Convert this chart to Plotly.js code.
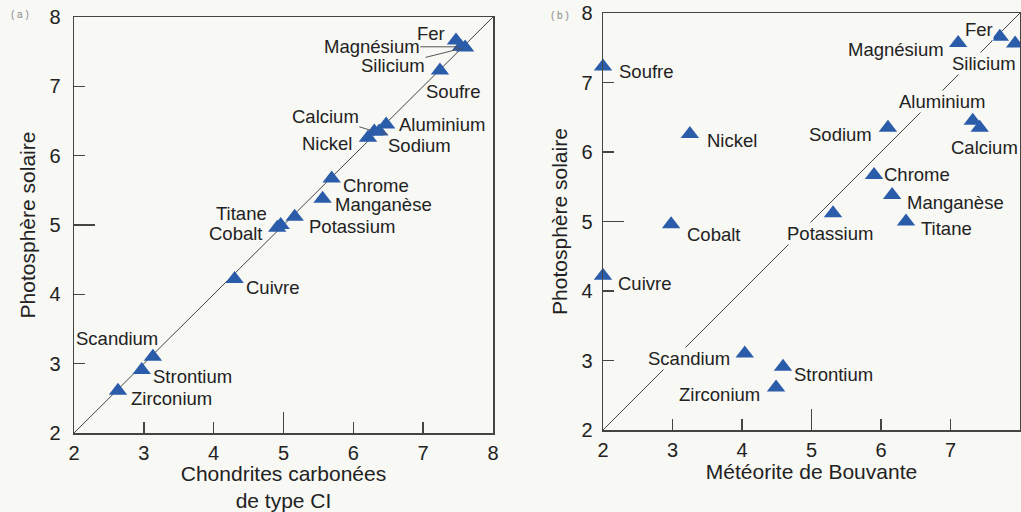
<!DOCTYPE html>
<html><head><meta charset="utf-8">
<script src="https://cdn.plot.ly/plotly-3.0.1.min.js"></script>
<style>html,body{margin:0;padding:0;background:#f8f8f4;}</style>
</head><body><div id="chart" style="width:1021px;height:512px;"></div>
<script>
// ---- data ----
const elements = ['Fer','Magnésium','Silicium','Soufre','Aluminium','Calcium','Nickel','Sodium','Chrome','Manganèse','Titane','Cobalt','Potassium','Cuivre','Scandium','Strontium','Zirconium'];
const photosphere = [7.66,7.57,7.56,7.23,6.45,6.35,6.26,6.35,5.67,5.38,5.00,4.96,5.12,4.22,3.10,2.91,2.61];
const chondritesCI = [7.47,7.54,7.60,7.24,6.47,6.30,6.21,6.37,5.69,5.56,4.96,4.91,5.16,4.30,3.13,2.97,2.63];
const bouvante = [7.71,7.11,7.93,2.00,7.32,7.42,3.25,6.10,5.90,6.16,6.36,2.98,5.31,2.00,4.04,4.59,4.49];
const diagonal = [2, 8];
const axisRange = [2, 8];
const longTick = [5];
const titleA = 'Chondrites carbonées<br>de type CI';
const titleB = 'Météorite de Bouvante';
const titleY = 'Photosphère solaire';

// ---- label placement (pixel offsets: dx, dy(down), leader line, mask) ----
const offsA = {
  'Fer':[-25,-7,0],'Magnésium':[-89,0,1],'Silicium':[-72,18,1],'Soufre':[14,21,0],
  'Aluminium':[56,0,0],'Calcium':[-49,-15,1],'Nickel':[-41,6,0],'Sodium':[40,14,1],
  'Chrome':[44,7,0],'Manganèse':[61,6,0],'Titane':[-39,-12,0],'Cobalt':[-42,6,0],
  'Potassium':[57,10,0],'Cuivre':[38,8,0],'Scandium':[-36,-18,0],'Strontium':[51,7,0],'Zirconium':[54,8,0]
};
const offsB = {
  'Fer':[-21,-7,0,1],'Magnésium':[-62,7,0],'Silicium':[-31,20,0,1],'Soufre':[43,5,0],
  'Aluminium':[-31,-19,0,1],'Calcium':[5,20,0],'Nickel':[42,7,0],'Sodium':[-47,7,0],
  'Chrome':[43,0,0],'Manganèse':[63,7,0],'Titane':[40,7,0],'Cobalt':[42,10,0],
  'Potassium':[-3,20,0,1],'Cuivre':[41,8,0],'Scandium':[-56,5,0,1],'Strontium':[50,8,0],'Zirconium':[-57,7,0]
};

const BG = '#f8f8f4';
const INK = '#222222';
const AX = '#444444';
const FONT = 'Liberation Sans, Arial, Helvetica, sans-serif';
const markerStyle = {symbol:'triangle-up', size:16, color:'#2a5caa', line:{width:0}};
const labelFont = {family:FONT, size:18.5, color:INK};

const traces = [
  {x:diagonal, y:diagonal, xaxis:'x', yaxis:'y', mode:'lines', line:{color:AX, width:1}, hoverinfo:'skip', showlegend:false},
  {x:chondritesCI, y:photosphere, text:elements, xaxis:'x', yaxis:'y', mode:'markers', marker:markerStyle, cliponaxis:false, showlegend:false},
  {x:diagonal, y:diagonal, xaxis:'x2', yaxis:'y2', mode:'lines', line:{color:AX, width:1}, hoverinfo:'skip', showlegend:false},
  {x:bouvante, y:photosphere, text:elements, xaxis:'x2', yaxis:'y2', mode:'markers', marker:markerStyle, cliponaxis:false, showlegend:false},
  {x:[], y:[], xaxis:'x3', yaxis:'y3', showlegend:false},
  {x:[], y:[], xaxis:'x4', yaxis:'y4', showlegend:false}
];

function baseAxis(domain, anchor, isX) {
  return {
    domain:domain, anchor:anchor, range:axisRange, dtick:1, tick0:2,
    ticks:'inside', ticklen:11, tickwidth:1.5, tickcolor:AX,
    showline:true, linecolor:AX, linewidth:1.5, mirror:true,
    showgrid:false, zeroline:false,
    tickfont:{family:FONT, size:20, color:INK},
    ticklabelstandoff: isX ? 1 : 8,
    fixedrange:true
  };
}
function longAxis(over, anchor) {
  return {overlaying:over, anchor:anchor, range:axisRange, tickvals:longTick,
    ticks:'inside', ticklen:21, tickwidth:1.5, tickcolor:AX,
    showticklabels:false, showline:false, showgrid:false, zeroline:false};
}

const dxA = [74/1021, 493/1021], dyA = [1-433/512, 1-17/512];
const dxB = [603/1021, 1020/1021], dyB = [1-430/512, 1-13/512];

const titleFont = {family:FONT, size:21, color:INK};
const xa = baseAxis(dxA, 'y', true);
xa.title = {text:titleA, font:titleFont, standoff:4};
const ya = baseAxis(dyA, 'x', false);
ya.title = {text:titleY, font:titleFont, standoff:8};
const xb = baseAxis(dxB, 'y2', true);
xb.title = {text:titleB, font:titleFont, standoff:4};
const yb = baseAxis(dyB, 'x2', false);
yb.ticklabelstandoff = 5;
yb.title = {text:titleY, font:titleFont, standoff:8};

const annotations = [];
function addLabels(xs, offs, xref, yref) {
  elements.forEach((name, i) => {
    const o = offs[name];
    if (o[2]) {
      annotations.push({x:xs[i], y:photosphere[i], xref:xref, yref:yref, text:name, font:labelFont,
        showarrow:true, arrowhead:0, arrowwidth:1, arrowcolor:'#555', ax:o[0], ay:o[1], standoff:3, borderpad:0});
    } else {
      const a = {x:xs[i], y:photosphere[i], xref:xref, yref:yref, text:name, font:labelFont,
        showarrow:false, xshift:o[0], yshift:-o[1], xanchor:'center', yanchor:'middle', borderpad:0};
      if (o[3]) a.bgcolor = BG;
      annotations.push(a);
    }
  });
}
addLabels(chondritesCI, offsA, 'x', 'y');
addLabels(bouvante, offsB, 'x2', 'y2');
annotations.push({xref:'paper', yref:'paper', x:20/1021, y:1-14/512, text:'( a )', showarrow:false, xanchor:'center', yanchor:'middle', font:{family:FONT, size:10, color:'#888'}});
annotations.push({xref:'paper', yref:'paper', x:560/1021, y:1-15/512, text:'( b )', showarrow:false, xanchor:'center', yanchor:'middle', font:{family:FONT, size:10, color:'#888'}});

const layout = {
  width:1021, height:512, margin:{l:0, r:0, t:0, b:0},
  paper_bgcolor:BG, plot_bgcolor:BG, showlegend:false,
  font:{family:FONT, color:INK},
  xaxis:xa, yaxis:ya, xaxis2:xb, yaxis2:yb,
  xaxis3:longAxis('x','y3'), yaxis3:longAxis('y','x3'),
  xaxis4:longAxis('x2','y4'), yaxis4:longAxis('y2','x4'),
  annotations:annotations
};
Plotly.newPlot('chart', traces, layout, {staticPlot:true, displayModeBar:false});
</script></body></html>
